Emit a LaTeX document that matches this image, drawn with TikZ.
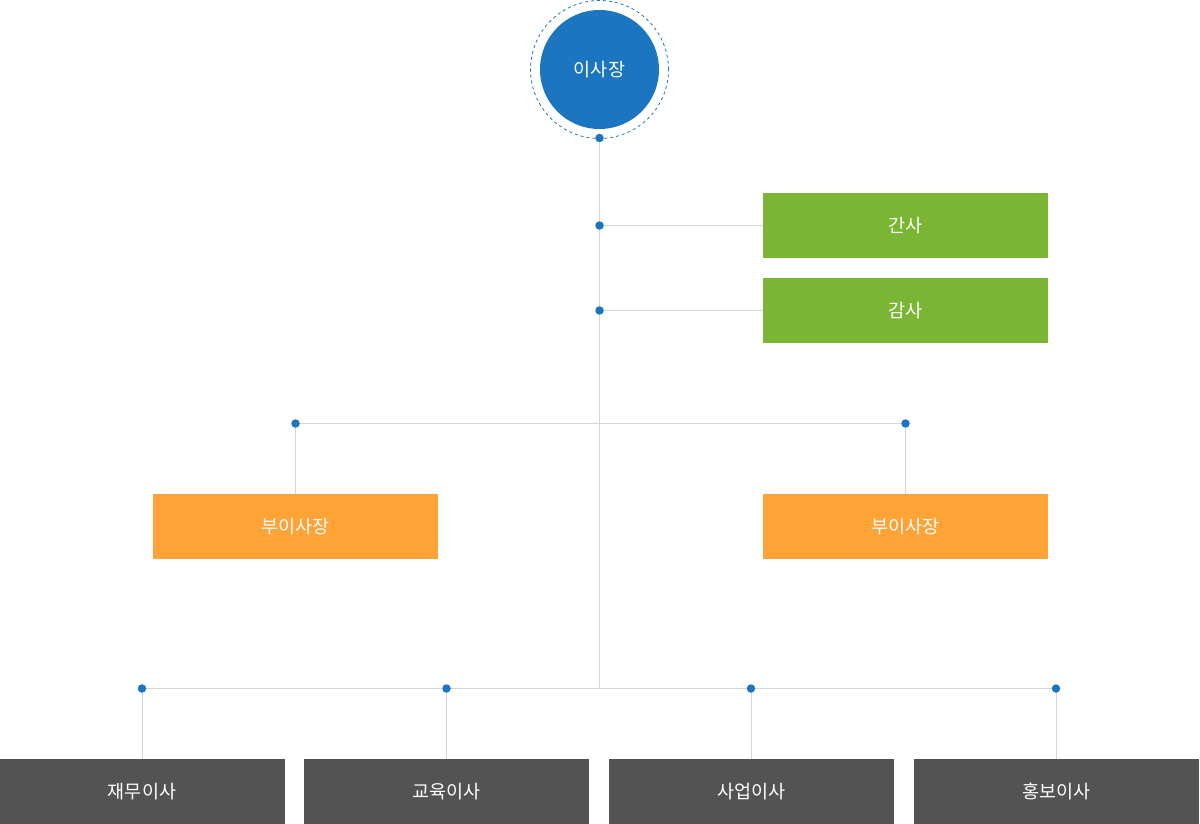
\documentclass[tikz,border=0pt]{standalone}
\usepackage{fontspec}
\setmainfont{Noto Sans CJK KR}
\usetikzlibrary{positioning}
\definecolor{chairBlue}{HTML}{1B75C1}
\definecolor{auditGreen}{HTML}{7AB633}
\definecolor{viceOrange}{HTML}{FFA337}
\definecolor{dirGray}{HTML}{535353}
\definecolor{lineGray}{HTML}{D6D6D6}

\begin{document}
\begin{tikzpicture}[x=1pt, y=-1pt,
    box/.style={minimum width=285pt, minimum height=65pt, inner sep=0pt, text=white, font=\fontsize{18.5}{20}\selectfont},
    link/.style={draw=lineGray, line width=1pt},
    dot/.style={circle, fill=chairBlue, inner sep=0pt, minimum size=8.5pt}]
    \useasboundingbox (0,0) rectangle (1200,824);

    % chairman
    \node[circle, draw=chairBlue, dashed, line width=0.8pt, minimum size=138pt, inner sep=0pt] (ring) at (599.5,69.5) {};
    \node[circle, fill=chairBlue, minimum size=119pt, inner sep=0pt, text=white, font=\fontsize{18.5}{20}\selectfont] (chair) at (599.5,69.5) {이사장};

    % junctions
    \coordinate (top) at (599.5,138);
    \coordinate (jA) at (599.5,225.5);
    \coordinate (jB) at (599.5,310.5);
    \coordinate (jL) at (295.5,423.5);
    \coordinate (jR) at (905.5,423.5);
    \coordinate (bot) at (599.5,688.5);
    \coordinate (d1) at (142,688.5);
    \coordinate (d2) at (446.5,688.5);
    \coordinate (d3) at (751,688.5);
    \coordinate (d4) at (1056,688.5);

    % boxes
    \node[box, fill=auditGreen] (gansa) at (905.5,225.5) {간사};
    \node[box, fill=auditGreen] (gamsa) at (905.5,310.5) {감사};
    \node[box, fill=viceOrange] (viceL) at (295.5,526.5) {부이사장};
    \node[box, fill=viceOrange] (viceR) at (905.5,526.5) {부이사장};
    \node[box, fill=dirGray] (fin) at (142,791.5) {재무이사};
    \node[box, fill=dirGray] (edu) at (446.5,791.5) {교육이사};
    \node[box, fill=dirGray] (biz) at (751.5,791.5) {사업이사};
    \node[box, fill=dirGray] (pr) at (1056.5,791.5) {홍보이사};

    % lines
    \draw[link] (top) -- (bot);
    \draw[link] (jA) -- (gansa.west);
    \draw[link] (jB) -- (gamsa.west);
    \draw[link] (jL) -- (jR);
    \draw[link] (jL) -- (viceL.north);
    \draw[link] (jR) -- (viceR.north);
    \draw[link] (d1) -- (d4);
    \draw[link] (d1) -- (d1 |- fin.north);
    \draw[link] (d2) -- (d2 |- edu.north);
    \draw[link] (d3) -- (d3 |- biz.north);
    \draw[link] (d4) -- (d4 |- pr.north);

    % dots
    \foreach \p in {top, jA, jB, jL, jR, d1, d2, d3, d4}
        \node[dot] at (\p) {};
\end{tikzpicture}
\end{document}
